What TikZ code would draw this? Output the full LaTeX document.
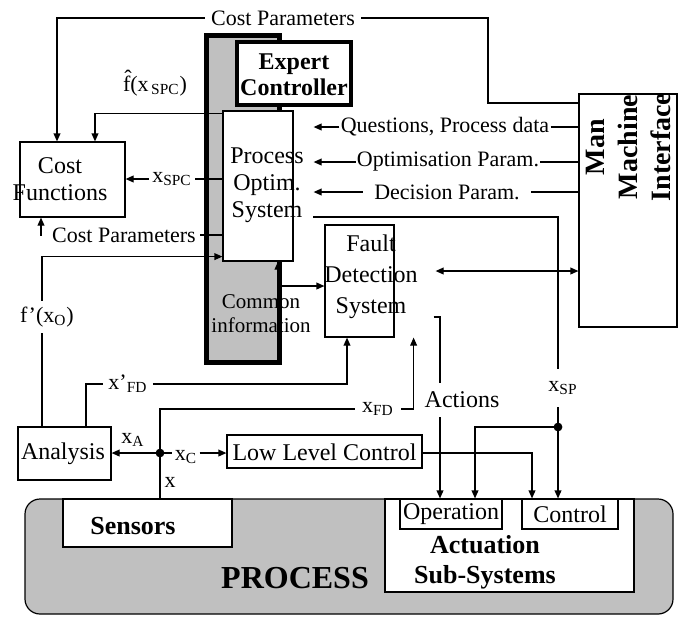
\documentclass[tikz,border=0pt]{standalone}
\usepackage{fontspec}
\setmainfont{Liberation Serif}
\usetikzlibrary{arrows.meta}
\definecolor{procgray}{HTML}{C0C0C0}
\begin{document}
\begin{tikzpicture}[x=0.5pt,y=-0.5pt,
  box/.style={draw, line width=0.6pt, fill=white, inner sep=0pt},
  lbl/.style={font=\fontsize{11}{12}\selectfont, inner sep=2pt},
  txt/.style={font=\fontsize{12}{13.5}\selectfont, align=center, inner sep=0pt},
  conn/.style={line width=0.6pt},
  arr/.style={conn, -{Triangle[length=4pt,width=3.4pt]}},
  both/.style={conn, {Triangle[length=4pt,width=3.4pt]}-{Triangle[length=4pt,width=3.4pt]}},
  jdot/.style={circle, fill=black, inner sep=0pt, minimum size=4.4pt}
]
\useasboundingbox (0,0) rectangle (683,617);

% process block
\node[draw, line width=0.6pt, fill=procgray, rounded corners=7.5pt, minimum width=324pt, minimum height=57.5pt] (proc) at (349,556.5) {};
\node[box, minimum width=84.5pt, minimum height=24pt] (sens) at (147.5,523) {};
\node[box, minimum width=124.5pt, minimum height=46.5pt] (act) at (509.5,545.5) {};
\node[box, minimum width=51pt, minimum height=15pt] (op) at (451,514) {};
\node[box, minimum width=48pt, minimum height=15pt] (ctrl) at (570,514) {};

% common information column
\node[draw, line width=2.5pt, fill=procgray, minimum width=36.5pt, minimum height=163.25pt, inner sep=0pt] (gc) at (242.5,198.75) {};
\node[box, line width=2pt, minimum width=57pt, minimum height=31.5pt] (ec) at (294,73.5) {};
\node[box, minimum width=35pt, minimum height=75pt] (pos) at (258,186) {};

% other boxes
\node[box, minimum width=52.5pt, minimum height=37.5pt] (cf) at (72.5,179.5) {};
\node[box, minimum width=34.5pt, minimum height=56pt] (fds) at (359.5,281) {};
\node[box, minimum width=49pt, minimum height=116.5pt] (mmi) at (628,210.5) {};
\node[box, minimum width=46.5pt, minimum height=26.5pt] (an) at (64.5,453.5) {};
\node[box, minimum width=97.5pt, minimum height=16.5pt] (llc) at (324.5,451.5) {};

% labels that interrupt lines
\node[lbl, inner xsep=3pt] (cp1) at (283,18) {Cost Parameters};
\node[lbl] (fhat) at (155,83) {\^{f}(x\textsubscript{\,SPC})};
\node[lbl, inner xsep=1.5pt] (xspc) at (172,179) {x\textsubscript{SPC}};
\node[lbl] (cp2) at (124,235) {Cost Parameters};
\node[lbl, inner xsep=0.5pt] (q) at (445,127) {Questions, Process data};
\node[lbl, inner xsep=0.5pt] (o) at (448,162) {Optimisation Param.};
\node[lbl, inner xsep=5.5pt] (d) at (447,192) {Decision Param.};
\node[lbl, inner xsep=2.5pt] (xpfd) at (128,384) {x’\textsubscript{FD}};
\node[lbl, inner xsep=3.5pt] (xfd) at (378,409) {x\textsubscript{FD}};
\node[lbl, inner xsep=1pt] (xc) at (186,457) {x\textsubscript{C}};
\node[lbl] (xa) at (133,440) {x\textsubscript{A}};
\node[lbl] (lx) at (170,482) {x};

% coordinates
\coordinate (c1) at (488,103);
\coordinate (pin) at ([xshift=10pt]pos.east);
\coordinate (sysl) at (313,217);
\coordinate (jsp) at (558,427);
\coordinate (jx) at (160,453);
\coordinate (ci) at (278,286);
\coordinate (fdr) at ([shift={(20.5pt,5pt)}]fds.east);

% connectors
\draw[arr] (cp1.west) -| ([xshift=-7.75pt]cf.north);
\draw[conn] (cp1.east) -| (c1) -- (c1 -| mmi.west);
\draw[arr] ([yshift=-1.5pt]pos.north west) -| ([xshift=11.25pt]cf.north);
\draw[conn] (pos.west |- xspc.east) -- (xspc.east);
\draw[arr] (xspc.west) -- (xspc.west -| cf.east);
\draw[conn] (pos.west |- cp2.east) -- (cp2.east);
\draw[arr] ([xshift=-3pt]cp2.west) -| ([xshift=-15.75pt]cf.south);

\draw[arr] (q.west) -- (q.west -| pin);
\draw[conn] (q.east) -- (q.east -| mmi.west);
\draw[arr] (o.west) -- (o.west -| pin);
\draw[conn] (o.east) -- (o.east -| mmi.west);
\draw[arr] (d.west) -- (d.west -| pin);
\draw[conn] (d.east) -- (d.east -| mmi.west);

\draw[conn] (sysl) -| (jsp);
\draw[arr] (jsp) -- (jsp |- ctrl.north);
\draw[arr] (jsp) -| ([xshift=12pt]op.north);

\draw[both] (fdr) -- (fdr -| mmi.west);
\draw[arr] (ci) -- (ci -| fds.west);
\draw[arr] (ci) -- (ci |- pos.south);

\draw[arr] ([xshift=-11.25pt]an.north) |- ([yshift=2.5pt]pos.south west);
\draw[conn] ([xshift=10.75pt]an.north) |- (xpfd.west);
\draw[arr] (xpfd.east) -| ([xshift=-6.25pt]fds.south);

\draw[conn] (jx) |- (xfd.west);
\draw[arr] (xfd.east) -| ([xshift=9.5pt]fds.south east);
\draw[conn] (jx) -- (jx |- sens.north);
\draw[arr] (jx) -- (jx -| an.east);
\draw[conn] (jx) -- (jx -| xc.west);
\draw[arr] (jx -| xc.east) -- (jx -| llc.west);
\draw[arr] ([yshift=-0.75pt]llc.east) -| ([xshift=-19pt]ctrl.north);
\draw[arr] ([shift={(19.5pt,-18pt)}]fds.east) -| ([xshift=-5.5pt]op.north);

\node[jdot] (jxd) at (jx) {};
\node[jdot] (jspd) at (jsp) {};

% labels over lines
\node[lbl, fill=white, inner ysep=6pt, inner xsep=1pt] (xsp) at (563,388) {x\textsubscript{SP}};
\node[lbl, font=\fontsize{12}{13}\selectfont, fill=white, inner ysep=4.5pt, inner xsep=1pt] (actl) at (462,400) {Actions};
\node[lbl, fill=white, inner ysep=3pt, inner xsep=1pt] (fp) at (47,317) {f’(x\textsubscript{O})};

% box texts
\node[txt, font=\fontsize{12}{13}\selectfont\bfseries] (ect) at (294,75) {Expert\\Controller};
\node[txt] (post) at (267,185.5) {Process\\Optim.\\System};
\node[txt] (cft) at (60,179.5) {Cost\\Functions};
\node[txt, font=\fontsize{12}{15.5}\selectfont] (fdst) at (371,277) {Fault\\Detection\\System};
\node[txt, font=\fontsize{14}{16.5}\selectfont\bfseries, rotate=90] (mmit) at (628,147) {Man\\Machine\\Interface};
\node[txt, font=\fontsize{10.5}{12}\selectfont] (cit) at (261,314) {Common\\information};
\node[txt] (ant) at (63,453.5) {Analysis};
\node[txt] (llct) at (324.5,452) {Low Level Control};
\node[txt] (opt) at (451,514) {Operation};
\node[txt] (ctrlt) at (570,514) {Control};
\node[txt, font=\fontsize{13}{15}\selectfont\bfseries] (senst) at (133,526) {Sensors};
\node[txt, font=\fontsize{13}{15}\selectfont\bfseries] (actt) at (485,562) {Actuation\\Sub-Systems};
\node[txt, font=\fontsize{16}{18}\selectfont\bfseries] (proct) at (295,578) {PROCESS};
\end{tikzpicture}
\end{document}
